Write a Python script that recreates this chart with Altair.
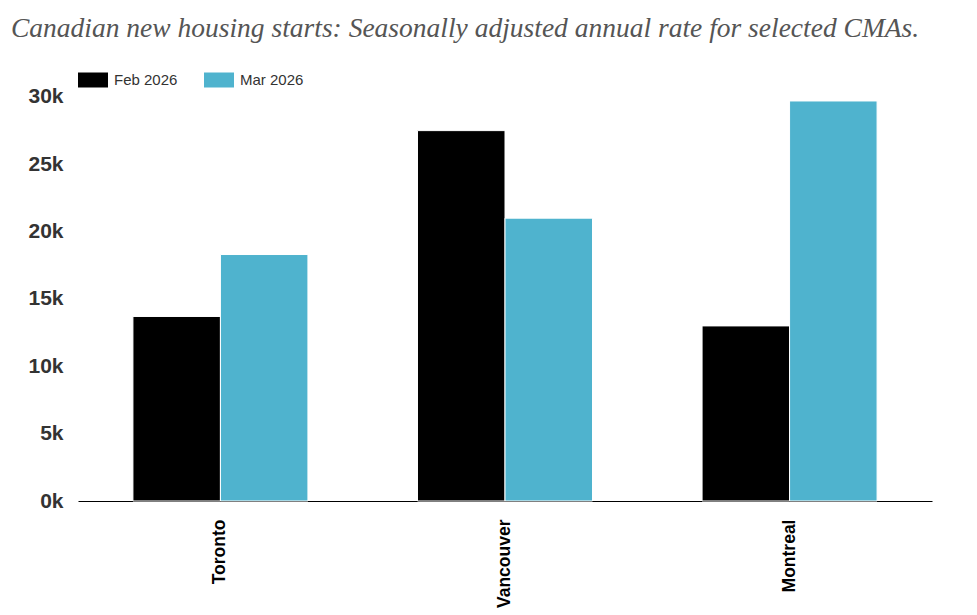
import altair as alt
import pandas as pd

cities = ["Toronto", "Vancouver", "Montreal"]
feb_2026 = [13700, 27500, 13000]
mar_2026 = [18300, 21000, 29700]
series = ["Feb 2026", "Mar 2026"]
colors = ["#000000", "#4fb3ce"]
y_ticks = [0, 5000, 10000, 15000, 20000, 25000, 30000]

rows = []
for c, f, m in zip(cities, feb_2026, mar_2026):
    rows.append({"city": c, "series": series[0], "value": f})
    rows.append({"city": c, "series": series[1], "value": m})
df = pd.DataFrame(rows)

chart = alt.Chart(df).mark_bar(stroke="white", strokeWidth=1).encode(
    x=alt.X("city:N", sort=cities, title=None,
            scale=alt.Scale(paddingInner=0.385, paddingOuter=0.193),
            axis=alt.Axis(labelAngle=270, labelAlign="right", labelBaseline="middle",
                          labelFont="Liberation Sans", labelFontWeight="bold",
                          labelFontSize=17.5, labelColor="#000", labelPadding=18,
                          ticks=False, domainColor="#000", domainWidth=1)),
    xOffset=alt.XOffset("series:N", sort=series),
    y=alt.Y("value:Q", title=None,
            scale=alt.Scale(domain=[0, 32000], nice=False),
            axis=alt.Axis(values=y_ticks, labelExpr="(datum.value/1000) + 'k'",
                          labelFont="Liberation Sans", labelFontWeight="bold",
                          labelFontSize=21, labelColor="#333333", labelPadding=15,
                          ticks=False, domain=False, grid=False)),
    color=alt.Color("series:N", sort=series,
                    scale=alt.Scale(domain=series, range=colors),
                    legend=alt.Legend(title=None, orient="none", legendX=0, legendY=-5,
                                      direction="horizontal",
                                      symbolType="M-1,-0.5H1V0.5H-1Z", symbolSize=900,
                                      symbolStrokeWidth=0, symbolOpacity=1,
                                      labelFont="Liberation Sans", labelFontSize=15,
                                      labelColor="#333333", labelOffset=6,
                                      columnPadding=26, padding=0)),
).properties(
    width=854, height=431,
    title=alt.TitleParams("Canadian new housing starts: Seasonally adjusted annual rate for selected CMAs.",
                          anchor="start", font="Liberation Serif", fontStyle="italic",
                          fontWeight="normal", fontSize=27.5, color="#555555",
                          dx=-17, offset=23),
    autosize=alt.AutoSizeParams(type="none"),
    padding={"left": 70, "top": 62, "right": 30, "bottom": 112},
).configure_view(stroke=None)

chart.save("out.html", embed_options={"renderer": "svg", "actions": False})
